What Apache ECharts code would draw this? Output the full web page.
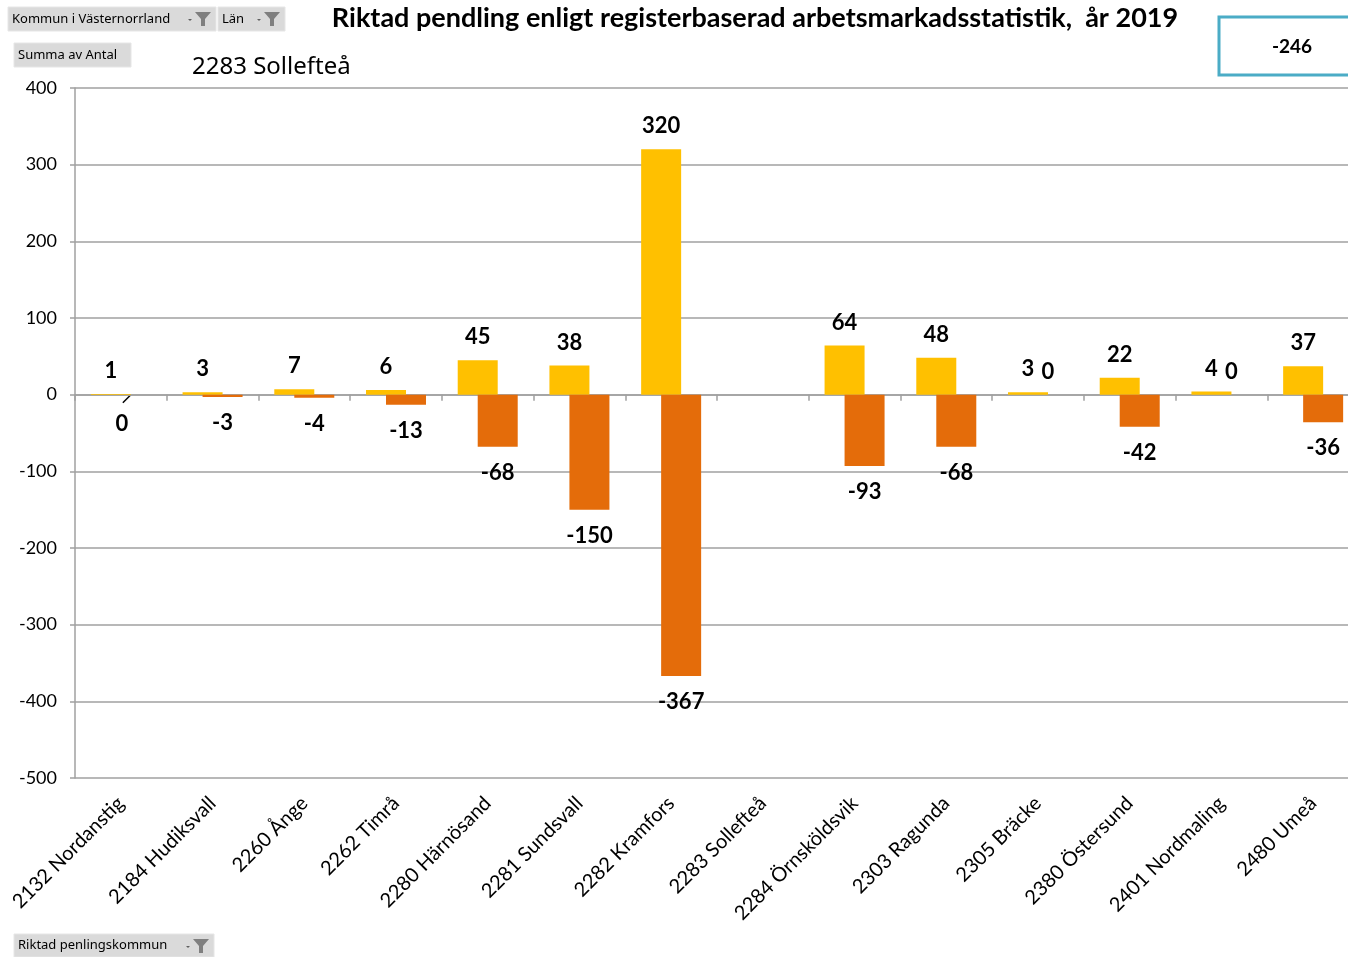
<!DOCTYPE html>
<html>
<head>
<meta charset="utf-8">
<title>Riktad pendling 2019</title>
<script src="https://cdn.jsdelivr.net/npm/echarts@6/dist/echarts.min.js"></script>
<style>html,body{margin:0;padding:0;background:#fff;}</style>
</head>
<body>
<div id="main" style="width:1348px;height:957px;"></div>
<script type="text/javascript">
// kategorier (pendlingskommuner) och värden
var kommuner = ['2132 Nordanstig', '2184 Hudiksvall', '2260 Ånge', '2262 Timrå', '2280 Härnösand',
    '2281 Sundsvall', '2282 Kramfors', '2283 Sollefteå', '2284 Örnsköldsvik', '2303 Ragunda',
    '2305 Bräcke', '2380 Östersund', '2401 Nordmaling', '2480 Umeå'];
var inpendling = [1, 3, 7, 6, 45, 38, 320, null, 64, 48, 3, 22, 4, 37];
var utpendling = [0, -3, -4, -13, -68, -150, -367, null, -93, -68, 0, -42, 0, -36];
var yMin = -500, yMax = 400, yStep = 100;

var netto = 0;
for (var i = 0; i < inpendling.length; i++) {
    netto += (inpendling[i] || 0) + (utpendling[i] || 0);
}

var grid = '#A0A0A0';
var font = 'Lato, "Noto Sans", sans-serif';
var btnFont = '"Noto Sans", sans-serif';

var labelStyle = {
    show: true,
    fontFamily: font,
    fontSize: 22,
    fontWeight: 'bold',
    color: '#000'
};

// nollor för utpendling får egen placering
var utData = utpendling.map(function (v, i) {
    if (v === 0 && i === 0) {
        return { value: v, label: { position: 'bottom', distance: 18, offset: [-9, 0] } };
    }
    if (v === 0) {
        return { value: v, label: { position: 'top', distance: 12 } };
    }
    return v;
});

// filterknappar i pivotdiagrammet
function funnel(x, y) {
    return [
        { type: 'polygon', shape: { points: [[x - 7, y + 7], [x - 3, y + 7], [x - 5, y + 9]] }, style: { fill: '#606060' } },
        { type: 'polygon', shape: { points: [[x, y], [x + 16, y], [x + 10, y + 7], [x + 10, y + 14], [x + 6, y + 14], [x + 6, y + 7]] }, style: { fill: '#7F7F7F' } }
    ];
}
function knapp(x, y, w, h, text, filter) {
    var els = [
        { type: 'rect', shape: { x: x, y: y, width: w, height: h }, style: { fill: '#DADADA', stroke: '#E6E6E6', lineWidth: 1 } },
        { type: 'text', x: x + 4, y: y + h / 2, style: { text: text, fontFamily: btnFont, fontSize: 13, fill: '#000', verticalAlign: 'middle' } }
    ];
    if (filter) els = els.concat(funnel(x + w - 21, y + 5));
    return els;
}

var grafik = []
    .concat(knapp(8, 7, 208, 24, 'Kommun i Västernorrland', true))
    .concat(knapp(218, 7, 67, 24, 'Län', true))
    .concat(knapp(14, 43, 117, 24, 'Summa av Antal', false))
    .concat(knapp(14, 934, 200, 23, 'Riktad penlingskommun', true))
    .concat([
        { type: 'rect', shape: { x: 1219, y: 17, width: 150, height: 58 }, style: { fill: '#fff', stroke: '#4BACC6', lineWidth: 3 } },
        { type: 'text', x: 1292, y: 47, style: { text: String(netto), fontFamily: font, fontSize: 19, fontWeight: 'bold', fill: '#000', align: 'center', verticalAlign: 'middle' } },
        { type: 'text', x: 192, y: 67, style: { text: '2283 Sollefteå', fontFamily: '"Noto Sans", sans-serif', fontSize: 24, fill: '#000', verticalAlign: 'middle' } }
    ]);

var myChart = echarts.init(document.getElementById('main'));

var option = {
    animation: false,
    backgroundColor: '#fff',
    title: {
        text: 'Riktad pendling enligt registerbaserad arbetsmarkadsstatistik,  år 2019',
        left: 750,
        textAlign: 'center',
        top: 0,
        textStyle: { fontFamily: font, fontSize: 27, fontWeight: 'bold', color: '#000' }
    },
    grid: { left: 75, top: 88, width: 1284, height: 690, outerBoundsMode: 'none' },
    xAxis: [
        {
            type: 'category',
            data: kommuner,
            position: 'bottom',
            axisLine: { show: false, onZero: false },
            axisTick: { show: false },
            axisLabel: {
                interval: 0,
                rotate: 45,
                margin: 22,
                fontFamily: font,
                fontSize: 20,
                color: '#000'
            }
        },
        {
            type: 'category',
            data: kommuner,
            position: 'bottom',
            axisLine: { show: true, onZero: true, lineStyle: { color: grid, width: 1.5 } },
            axisTick: { show: true, length: 6, interval: 0, lineStyle: { color: grid, width: 1.5 } },
            axisLabel: { show: false }
        }
    ],
    yAxis: {
        type: 'value',
        min: yMin,
        max: yMax,
        interval: yStep,
        axisLine: { show: true, lineStyle: { color: grid, width: 1.5 } },
        axisTick: { show: true, length: 5, lineStyle: { color: grid, width: 1.5 } },
        splitLine: { show: true, lineStyle: { color: grid, width: 1.5 } },
        axisLabel: { margin: 18, fontFamily: font, fontSize: 18, color: '#000' }
    },
    series: [
        {
            name: 'Inpendling',
            type: 'bar',
            xAxisIndex: 1,
            data: inpendling,
            barWidth: 40,
            barGap: '-50%',
            itemStyle: { color: '#FFC000' },
            label: Object.assign({ position: 'top', distance: 12 }, labelStyle)
        },
        {
            name: 'Utpendling',
            type: 'bar',
            xAxisIndex: 1,
            data: utData,
            barWidth: 40,
            barGap: '-50%',
            itemStyle: { color: '#E46C0A' },
            label: Object.assign({ position: 'bottom', distance: 15 }, labelStyle)
        }
    ],
    graphic: grafik
};

myChart.setOption(option);

// ledarlinje för etiketten "0" vid Nordanstig
var p = myChart.convertToPixel({ xAxisIndex: 1, yAxisIndex: 0 }, [0, 0]);
grafik.push({
    type: 'line',
    shape: { x1: p[0] + 10, y1: p[1], x2: p[0] + 2, y2: p[1] + 8 },
    style: { stroke: '#000', lineWidth: 1.5 }
});
myChart.setOption({ graphic: grafik });
</script>
</body>
</html>
